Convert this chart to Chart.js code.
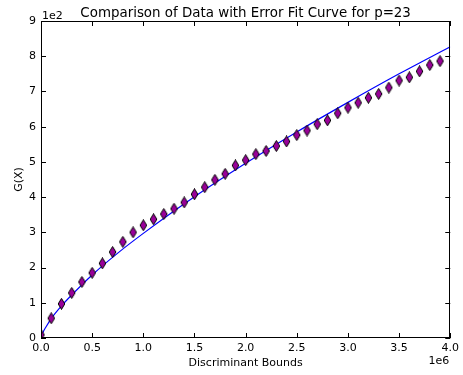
<!DOCTYPE html>
<html>
<head>
<meta charset="utf-8">
<script src="https://cdn.jsdelivr.net/npm/chart.js@4.4.1/dist/chart.umd.min.js"></script>
<style>
  body { margin: 0; background: #fff; }
</style>
</head>
<body>
<canvas id="myChart" width="463" height="375"></canvas>
<script>
// Discriminant bounds (x) and measured G(X) values
const bounds = [
  0, 100000, 200000, 300000, 400000, 500000, 600000, 700000, 800000, 900000,
  1000000, 1100000, 1200000, 1300000, 1400000, 1500000, 1600000, 1700000, 1800000, 1900000,
  2000000, 2100000, 2200000, 2300000, 2400000, 2500000, 2600000, 2700000, 2800000, 2900000,
  3000000, 3100000, 3200000, 3300000, 3400000, 3500000, 3600000, 3700000, 3800000, 3900000
];
const gValues = [
  9, 56, 97, 128, 159, 185, 212, 244, 273, 300,
  320, 337, 352, 367, 385, 408, 428, 449, 466, 490,
  505, 522, 531, 545, 558, 576, 589, 607, 618, 638,
  654, 668, 682, 693, 711, 731, 740, 757, 775, 786
];

// Error fit curve, sampled along x
const fitX = [0, 20000, 50000, 100000, 200000, 300000, 500000, 750000, 1000000,
  1500000, 2000000, 2500000, 3000000, 3500000, 4000000];
const fitY = [0, 16.5, 32, 55, 91, 122, 179, 241, 297,
  401, 496, 585, 669, 750, 827];

const xTicks = [0, 500000, 1000000, 1500000, 2000000, 2500000, 3000000, 3500000, 4000000];
const yTicks = [0, 100, 200, 300, 400, 500, 600, 700, 800, 900];

const FONT = "DejaVu Sans";

// thin diamond marker
function makeDiamond() {
  const c = document.createElement("canvas");
  c.width = 9;
  c.height = 12;
  const g = c.getContext("2d");
  g.beginPath();
  g.moveTo(4.5, 0.5);
  g.lineTo(7.8, 6);
  g.lineTo(4.5, 11.5);
  g.lineTo(1.2, 6);
  g.closePath();
  g.fillStyle = "#990099";
  g.fill();
  g.lineWidth = 1;
  g.strokeStyle = "#000";
  g.stroke();
  return c;
}

// frame, inward ticks on all sides, and the texts
const framePlugin = {
  id: "frame",
  afterDraw(chart) {
    const ctx = chart.ctx;
    const a = chart.chartArea;
    const xs = chart.scales.x;
    const ys = chart.scales.y;
    ctx.save();
    ctx.strokeStyle = "#000";
    ctx.lineWidth = 1;
    ctx.strokeRect(Math.round(a.left) + 0.5, Math.round(a.top) + 0.5,
      Math.round(a.right - a.left) - 1, Math.round(a.bottom - a.top) - 1);
    ctx.beginPath();
    xTicks.forEach(v => {
      const px = Math.round(xs.getPixelForValue(v)) + 0.5;
      ctx.moveTo(px, a.bottom);
      ctx.lineTo(px, a.bottom - 5);
      ctx.moveTo(px, a.top);
      ctx.lineTo(px, a.top + 5);
    });
    yTicks.forEach(v => {
      const py = Math.round(ys.getPixelForValue(v)) + 0.5;
      ctx.moveTo(a.left, py);
      ctx.lineTo(a.left + 5, py);
      ctx.moveTo(a.right, py);
      ctx.lineTo(a.right - 5, py);
    });
    ctx.stroke();

    ctx.fillStyle = "#000";
    ctx.textBaseline = "alphabetic";
    ctx.font = "13.4px '" + FONT + "'";
    ctx.textAlign = "center";
    ctx.fillText("Comparison of Data with Error Fit Curve for p=23", (a.left + a.right) / 2, 17);

    ctx.font = "11px '" + FONT + "'";
    ctx.fillText("Discriminant Bounds", (a.left + a.right) / 2, 366);
    ctx.textAlign = "left";
    ctx.fillText("1e2", a.left + 1, 19);
    ctx.textAlign = "right";
    ctx.fillText("1e6", a.right - 1, 364);

    ctx.translate(22, (a.top + a.bottom) / 2);
    ctx.rotate(-Math.PI / 2);
    ctx.textAlign = "center";
    ctx.fillText("G(X)", 0, 0);
    ctx.restore();
  }
};

const chartCanvas = document.getElementById("myChart");

window.myChart = new Chart(chartCanvas, {
  type: "scatter",
  data: {
    datasets: [
      {
        label: "fit",
        data: fitX.map((x, i) => ({ x: x, y: fitY[i] })),
        showLine: true,
        borderColor: "#0000ff",
        borderWidth: 1.2,
        pointRadius: 0,
        cubicInterpolationMode: "monotone",
        order: 2
      },
      {
        label: "data",
        data: bounds.map((x, i) => ({ x: x, y: gValues[i] })),
        showLine: false,
        pointStyle: makeDiamond(),
        order: 1
      }
    ]
  },
  options: {
    responsive: false,
    animation: false,
    events: [],
    layout: { padding: { top: 21, right: 11, left: 0, bottom: 0 } },
    plugins: {
      legend: { display: false },
      tooltip: { enabled: false },
      title: { display: false }
    },
    scales: {
      x: {
        type: "linear",
        min: 0,
        max: 4000000,
        border: { display: false },
        grid: { display: false, drawTicks: false },
        afterBuildTicks: s => { s.ticks = xTicks.map(v => ({ value: v })); },
        afterFit: s => { s.height = 37; },
        ticks: {
          padding: 4,
          color: "#000",
          font: { family: FONT, size: 11 },
          maxRotation: 0,
          callback: v => (v / 1000000).toFixed(1)
        }
      },
      y: {
        type: "linear",
        min: 0,
        max: 900,
        border: { display: false },
        grid: { display: false, drawTicks: false },
        afterBuildTicks: s => { s.ticks = yTicks.map(v => ({ value: v })); },
        afterFit: s => { s.width = 41; },
        ticks: {
          padding: 5,
          color: "#000",
          font: { family: FONT, size: 11 },
          callback: v => String(v / 100)
        }
      }
    }
  },
  plugins: [framePlugin]
});
</script>
</body>
</html>
